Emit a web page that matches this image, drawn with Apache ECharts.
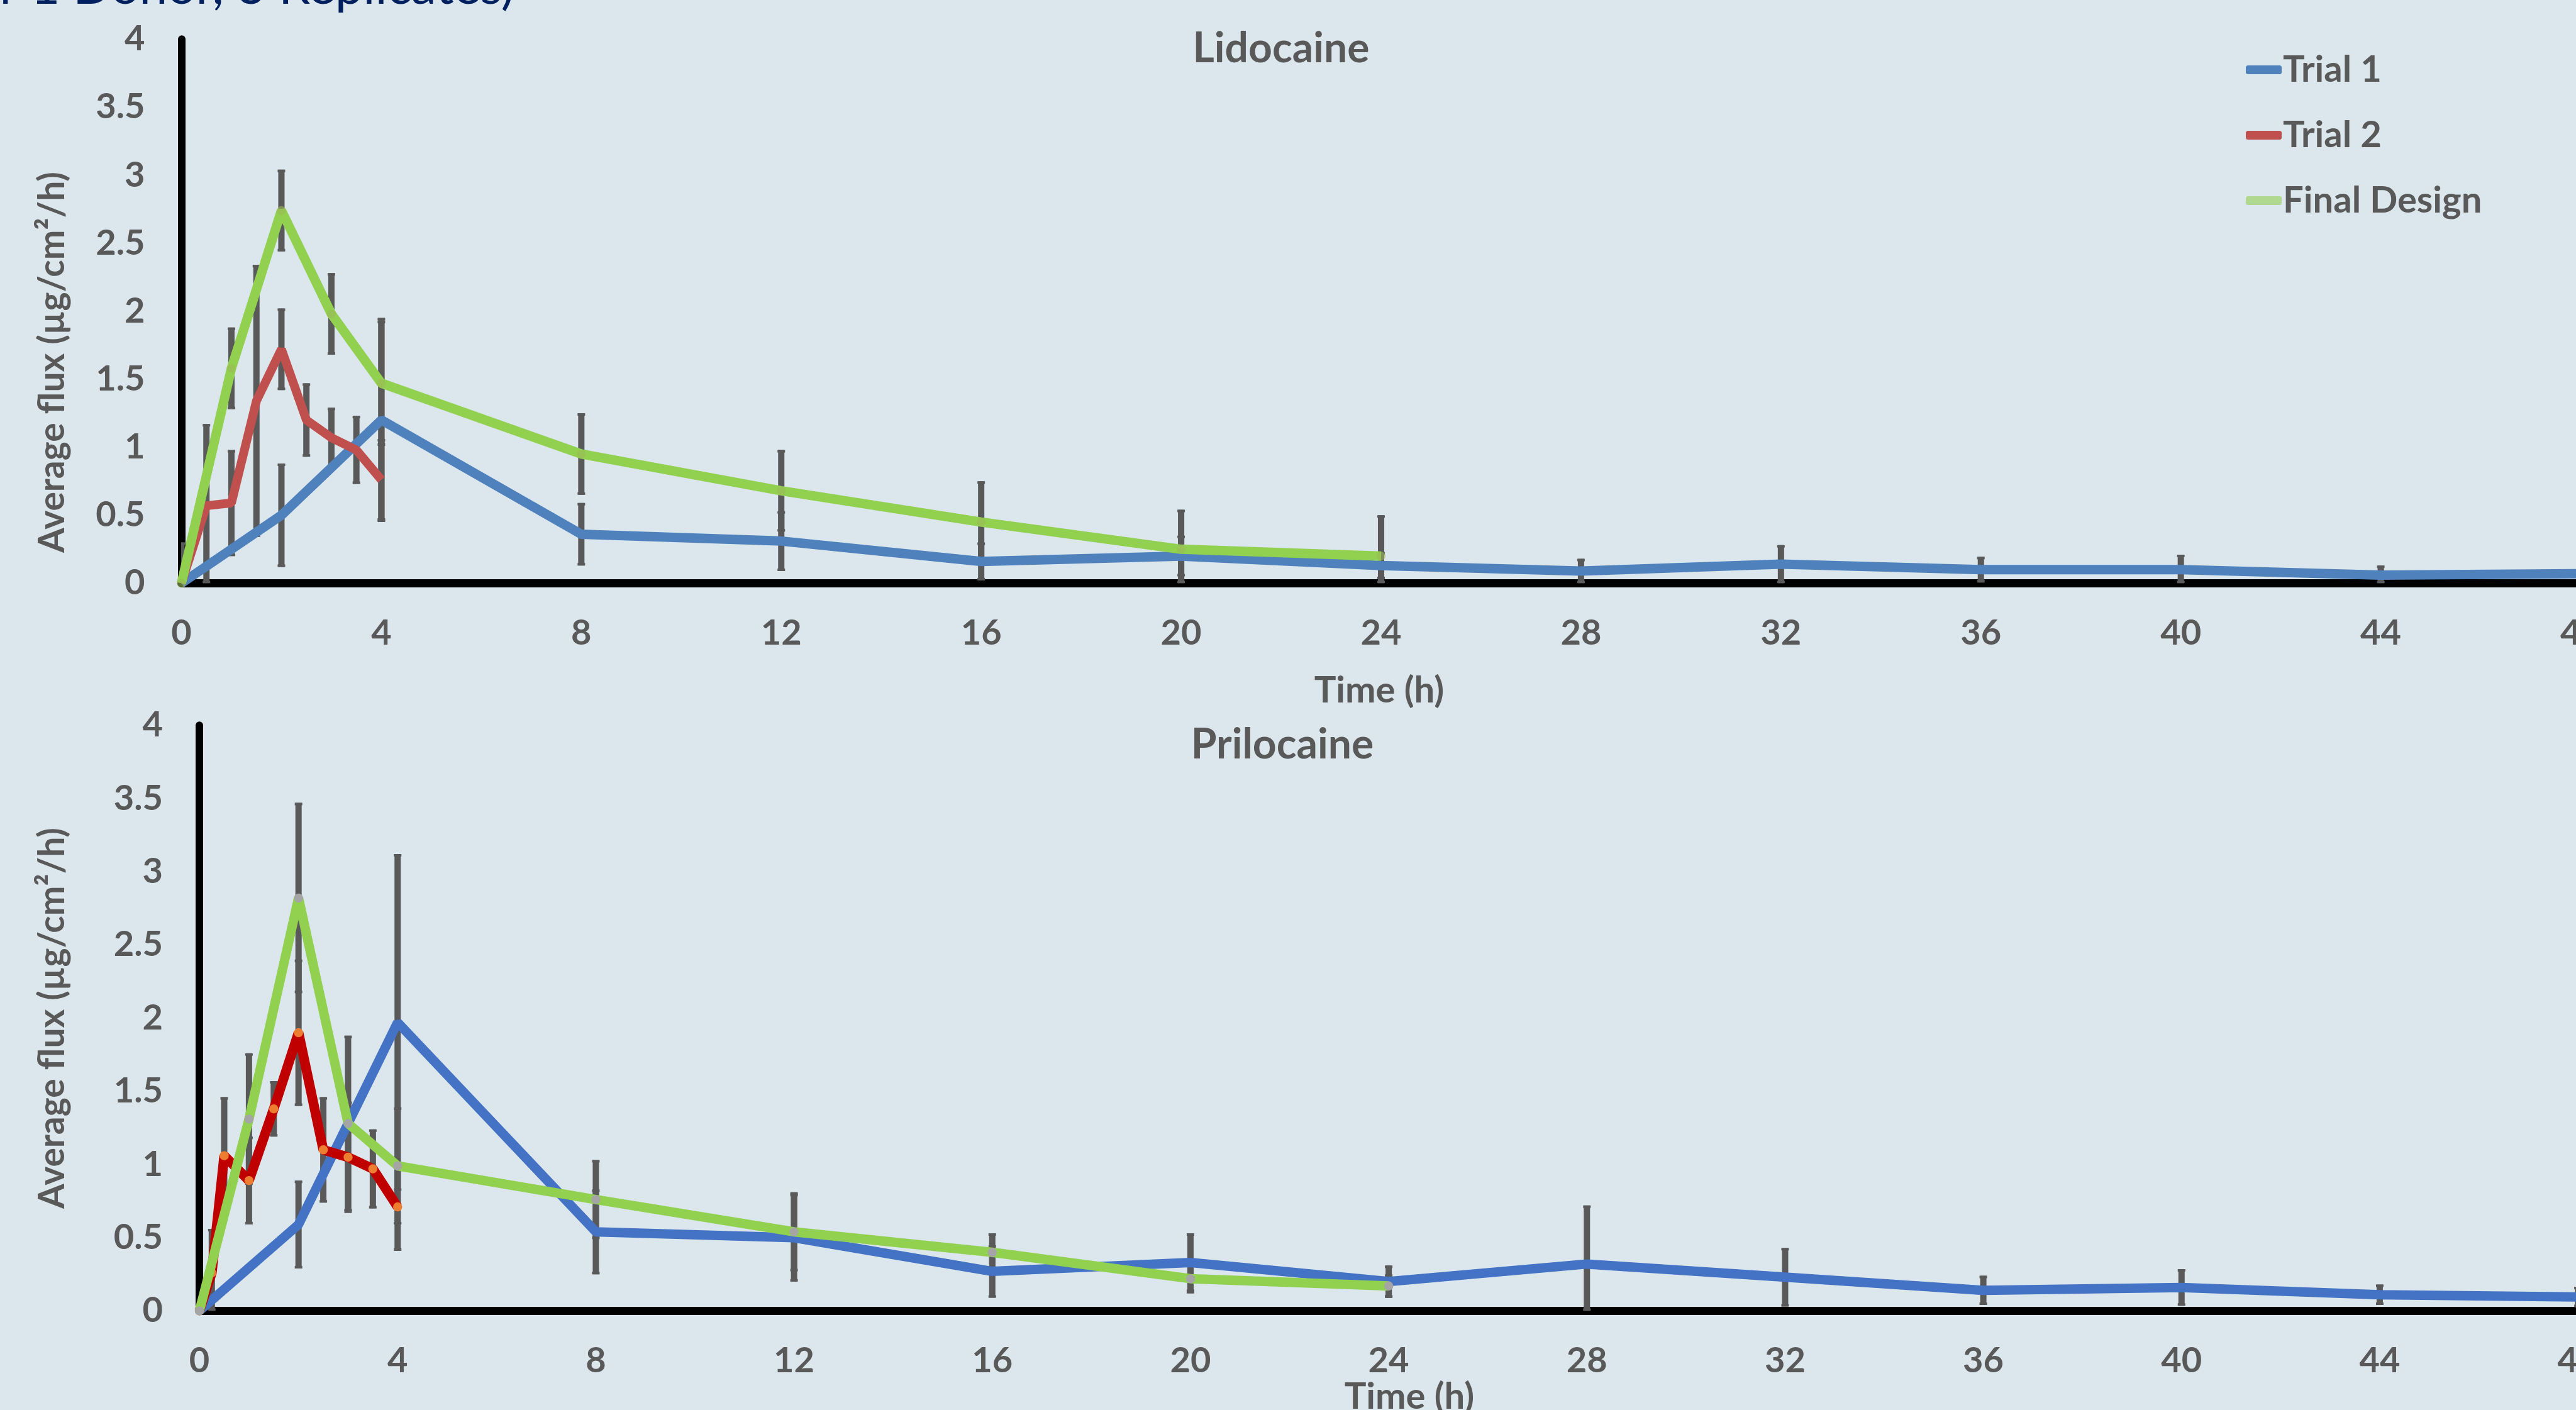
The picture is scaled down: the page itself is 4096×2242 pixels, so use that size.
<!DOCTYPE html>
<html>
<head>
<meta charset="utf-8">
<title>Average flux - Lidocaine / Prilocaine</title>
<script src="https://cdn.jsdelivr.net/npm/echarts@6/dist/echarts.min.js"></script>
<style>
  html, body { margin: 0; padding: 0; background: #DBE7ED; overflow: hidden; }
  #chart { width: 4096px; height: 2242px; }
</style>
</head>
<body>
<div id="chart"></div>
<script>
// ---- Lidocaine (top panel) ----
var lidoT1Time = [0, 2, 4, 8, 12, 16, 20, 24, 28, 32, 36, 40, 44, 48]
var lidoT1 = [0, 0.5, 1.2, 0.36, 0.31, 0.16, 0.2, 0.13, 0.09, 0.14, 0.1, 0.1, 0.06, 0.07]
var lidoT1Err = [0, 0.38, 0.75, 0.23, 0.22, 0.14, 0.15, 0.1, 0.09, 0.14, 0.095, 0.11, 0.07, 0.06]

var lidoT2Time = [0, 0.5, 1, 1.5, 2, 2.5, 3, 3.5, 4]
var lidoT2 = [0, 0.57, 0.59, 1.34, 1.72, 1.2, 1.07, 0.98, 0.76]
var lidoT2Err = [0, 0.6, 0.39, 1.0, 0.3, 0.27, 0.22, 0.25, 0.3]

var lidoFDTime = [0, 1, 2, 3, 4, 8, 12, 16, 20, 24]
var lidoFD = [0, 1.58, 2.74, 1.98, 1.47, 0.95, 0.68, 0.45, 0.25, 0.2]
var lidoFDErr = [0.3, 0.3, 0.3, 0.3, 0.46, 0.3, 0.3, 0.3, 0.29, 0.3]

// ---- Prilocaine (bottom panel) ----
var priT1Time = [0, 2, 4, 8, 12, 16, 20, 24, 28, 32, 36, 40, 44, 48]
var priT1 = [0, 0.59, 1.97, 0.54, 0.5, 0.27, 0.33, 0.2, 0.32, 0.23, 0.14, 0.16, 0.11, 0.095]
var priT1Err = [0, 0.3, 1.15, 0.29, 0.3, 0.18, 0.2, 0.11, 0.4, 0.2, 0.1, 0.125, 0.07, 0.07]

var priT2Time = [0, 0.25, 0.5, 1, 1.5, 2, 2.5, 3, 3.5, 4]
var priT2 = [0, 0.26, 1.06, 0.89, 1.38, 1.9, 1.1, 1.05, 0.97, 0.71]
var priT2Err = [0, 0.3, 0.4, 0.3, 0.19, 0.5, 0.36, 0.38, 0.27, 0.3]

var priFDTime = [0, 1, 2, 3, 4, 8, 12, 16, 20, 24]
var priFD = [0, 1.31, 2.82, 1.28, 0.99, 0.76, 0.54, 0.4, 0.22, 0.17]
var priFDErr = [0, 0.45, 0.65, 0.6, 0.4, 0.27, 0.27, 0.13, 0.1, 0.08]

var seriesNames = ['Trial 1', 'Trial 2', 'Final Design']
var yTitle = 'Average flux (µg/cm²/h)'
var xTitle = 'Time (h)'

var FONT = 'Lato'
var GREY = '#595959'

function pairs (t, v) {
  return t.map(function (x, i) { return [x, v[i]] })
}

// error bar rows: [time, low, high]
function bars (t, v, e) {
  return t.map(function (x, i) { return [x, Math.max(0, v[i] - e[i]), v[i] + e[i]] })
}

function renderBar (params, api) {
  var x = api.value(0)
  var lo = api.coord([x, api.value(1)])
  var hi = api.coord([x, api.value(2)])
  var st = { stroke: GREY, lineWidth: 10 }
  var cap = { stroke: GREY, lineWidth: 4 }
  return {
    type: 'group',
    children: [
      { type: 'line', shape: { x1: lo[0], y1: lo[1], x2: hi[0], y2: hi[1] }, style: st },
      { type: 'line', shape: { x1: hi[0] - 6, y1: hi[1] + 2, x2: hi[0] + 6, y2: hi[1] + 2 }, style: cap },
      { type: 'line', shape: { x1: lo[0] - 6, y1: lo[1] - 2, x2: lo[0] + 6, y2: lo[1] - 2 }, style: cap }
    ]
  }
}

function xAxisOf (idx) {
  return {
    type: 'value',
    gridIndex: idx,
    min: 0,
    max: 48,
    interval: 4,
    axisLine: { lineStyle: { color: '#000', width: 13 } },
    axisTick: { show: false },
    splitLine: { show: false },
    axisLabel: { margin: 52, fontFamily: FONT, fontWeight: 'bold', fontSize: 56, color: GREY }
  }
}

function yAxisOf (idx) {
  return {
    type: 'value',
    gridIndex: idx,
    min: 0,
    max: 4,
    interval: 0.5,
    axisLine: { show: true, lineStyle: { color: '#000', width: 12 } },
    axisTick: { show: false },
    splitLine: { show: false },
    axisLabel: { margin: 58, fontFamily: FONT, fontWeight: 'bold', fontSize: 56, color: GREY }
  }
}

var myChart = echarts.init(document.getElementById('chart'))

myChart.setOption({
  backgroundColor: '#DBE7ED',
  animation: false,
  grid: [
    { left: 288.5, top: 62.2, width: 3815, height: 865.2, containLabel: false, outerBoundsMode: 'none' },
    { left: 317.1, top: 1153.2, width: 3782, height: 931.2, containLabel: false, outerBoundsMode: 'none' }
  ],
  xAxis: [xAxisOf(0), xAxisOf(1)],
  yAxis: [yAxisOf(0), yAxisOf(1)],
  legend: {
    orient: 'vertical',
    left: 3566,
    top: 76,
    itemWidth: 57,
    itemHeight: 14,
    itemGap: 44,
    icon: 'roundRect',
    textStyle: { fontFamily: FONT, fontWeight: 'bold', fontSize: 58, color: GREY, lineHeight: 60, padding: [0, 0, 0, -3] },
    data: [
      { name: seriesNames[0], itemStyle: { color: '#4F81BD' } },
      { name: seriesNames[1], itemStyle: { color: '#C0504D' } },
      { name: seriesNames[2], itemStyle: { color: '#92D050' } }
    ]
  },
  graphic: [
    // partial heading cut off at the top of the picture
    { type: 'text', x: 818, y: -20, style: { text: 'r 1 Donor, 3 Replicates)', align: 'right', verticalAlign: 'middle', font: '80px Lato', fill: '#002060' } },
    { type: 'text', x: 2037, y: 78, style: { text: 'Lidocaine', align: 'center', verticalAlign: 'middle', font: 'bold 66px Lato', fill: GREY } },
    { type: 'text', x: 2039, y: 1185, style: { text: 'Prilocaine', align: 'center', verticalAlign: 'middle', font: 'bold 66px Lato', fill: GREY } },
    { type: 'text', x: 2193, y: 1098, style: { text: xTitle, align: 'center', verticalAlign: 'middle', font: 'bold 58px Lato', fill: GREY } },
    { type: 'text', x: 2241, y: 2221, style: { text: xTitle, align: 'center', verticalAlign: 'middle', font: 'bold 58px Lato', fill: GREY } },
    { type: 'text', x: 84, y: 576, rotation: Math.PI / 2, style: { text: yTitle, align: 'center', verticalAlign: 'middle', font: 'bold 57px Lato', fill: GREY } },
    { type: 'text', x: 84, y: 1619, rotation: Math.PI / 2, style: { text: yTitle, align: 'center', verticalAlign: 'middle', font: 'bold 57px Lato', fill: GREY } }
  ],
  series: [
    // error bars
    { type: 'custom', xAxisIndex: 0, yAxisIndex: 0, clip: true, z: 1, renderItem: renderBar,
      data: bars(lidoT1Time, lidoT1, lidoT1Err).concat(bars(lidoT2Time, lidoT2, lidoT2Err), bars(lidoFDTime, lidoFD, lidoFDErr)) },
    { type: 'custom', xAxisIndex: 1, yAxisIndex: 1, clip: true, z: 1, renderItem: renderBar,
      data: bars(priT1Time, priT1, priT1Err).concat(bars(priT2Time, priT2, priT2Err), bars(priFDTime, priFD, priFDErr)) },

    // Lidocaine
    { name: seriesNames[0], type: 'line', xAxisIndex: 0, yAxisIndex: 0, z: 2, symbol: 'none',
      lineStyle: { color: '#4F81BD', width: 15 }, itemStyle: { color: '#4F81BD' }, data: pairs(lidoT1Time, lidoT1) },
    { name: seriesNames[1], type: 'line', xAxisIndex: 0, yAxisIndex: 0, z: 3, symbol: 'none',
      lineStyle: { color: '#C0504D', width: 14 }, itemStyle: { color: '#C0504D' }, data: pairs(lidoT2Time, lidoT2) },
    { name: seriesNames[2], type: 'line', xAxisIndex: 0, yAxisIndex: 0, z: 4, symbol: 'circle', symbolSize: 14,
      lineStyle: { color: '#92D050', width: 15 }, itemStyle: { color: '#9BBB59', opacity: 0.6 }, data: pairs(lidoFDTime, lidoFD) },

    // Prilocaine
    { name: seriesNames[0], type: 'line', xAxisIndex: 1, yAxisIndex: 1, z: 2, symbol: 'none',
      lineStyle: { color: '#4472C4', width: 15 }, itemStyle: { color: '#4472C4' }, data: pairs(priT1Time, priT1) },
    { name: seriesNames[1], type: 'line', xAxisIndex: 1, yAxisIndex: 1, z: 3, symbol: 'circle', symbolSize: 14.5,
      lineStyle: { color: '#C00000', width: 15.5 }, itemStyle: { color: '#ED7D31' }, data: pairs(priT2Time, priT2) },
    { name: seriesNames[2], type: 'line', xAxisIndex: 1, yAxisIndex: 1, z: 4, symbol: 'circle', symbolSize: 14.5,
      lineStyle: { color: '#92D050', width: 15 }, itemStyle: { color: '#A5A5A5' }, data: pairs(priFDTime, priFD) }
  ]
})
</script>
</body>
</html>
